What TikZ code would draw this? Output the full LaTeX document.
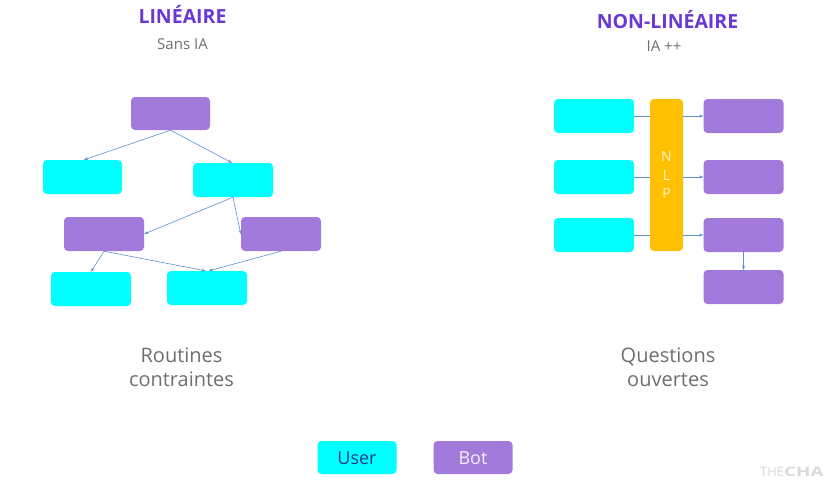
\documentclass[tikz,border=0pt]{standalone}
\usepackage{fontspec}
\setmainfont{Open Sans}
\usetikzlibrary{arrows.meta}
\definecolor{ucyan}{HTML}{00FFFF}
\definecolor{bpurple}{HTML}{A27ADC}
\definecolor{nlporange}{HTML}{FFC000}
\definecolor{arrowblue}{HTML}{5B8FD0}
\definecolor{titlepurple}{HTML}{6A38D2}
\definecolor{graytext}{HTML}{6E6E6E}
\definecolor{userblue}{HTML}{1F3C8C}
\definecolor{bottext}{HTML}{F4EEFC}
\definecolor{wmgray}{HTML}{D9D9D9}
\definecolor{nlptext}{HTML}{FFF3CC}
\tikzset{
  ubox/.style={fill=ucyan, rounded corners=4pt, minimum width=80pt, minimum height=34pt, inner sep=0pt},
  bbox/.style={fill=bpurple, rounded corners=4pt, minimum width=80pt, minimum height=34pt, inner sep=0pt},
  conn/.style={draw=arrowblue, line width=0.6pt, -{Stealth[length=4pt,width=3pt]}},
  plain/.style={draw=arrowblue, line width=0.6pt},
  title/.style={font=\fontsize{19.5}{23}\selectfont\bfseries, text=titlepurple},
  sub/.style={font=\fontsize{15}{18}\selectfont, text=graytext},
  caption/.style={font=\fontsize{20}{24}\selectfont, text=graytext, align=center},
  legtext/.style={font=\fontsize{18}{21}\selectfont}
}
\begin{document}
\begin{tikzpicture}[x=1pt,y=-1pt]
\useasboundingbox (0,0) rectangle (831,485);
% titles
\node[title] (t1) at (182.5,14) {LINÉAIRE};
\node[sub] (s1) at (182.5,44) {Sans IA};
\node[title] (t2) at (667.5,19.5) {NON-LINÉAIRE};
\node[sub] (s2) at (664,46.5) {IA ++};
% left diagram
\node[bbox, minimum width=79pt, minimum height=33pt] (lt) at (170.5,113.5) {};
\node[ubox, minimum width=79pt] (lc1) at (82.5,177) {};
\node[ubox] (lc2) at (233,180) {};
\node[bbox] (lp1) at (104,234) {};
\node[bbox] (lp2) at (281,234) {};
\node[ubox] (lc3) at (91,289) {};
\node[ubox] (lc4) at (207,288) {};
\draw[conn] (lt.south) -- ([xshift=1.5pt]lc1.north);
\draw[conn] (lt.south) -- ([xshift=-1pt]lc2.north);
\draw[conn] (lc2.south) -- (lp1.east);
\draw[conn] (lc2.south) -- (lp2.west);
\draw[conn] (lp1.south) -- (lc3.north);
\draw[conn] (lp1.south) -- ([xshift=-1.5pt]lc4.north);
\draw[conn] (lp2.south) -- ([xshift=2pt]lc4.north);
% right diagram
\node[ubox] (ru1) at (594,116) {};
\node[ubox] (ru2) at (594,177) {};
\node[ubox] (ru3) at (594,235) {};
\node[fill=nlporange, rounded corners=4pt, minimum width=33pt, minimum height=152pt, inner sep=0pt,
      font=\fontsize{14}{18.5}\selectfont, text=nlptext, align=center] (nlp) at (666.5,175) {N\\L\\P};
\node[bbox] (rb1) at (743.5,116) {};
\node[bbox] (rb2) at (743.5,177) {};
\node[bbox] (rb3) at (743.5,235) {};
\node[bbox] (rb4) at (743.5,287) {};
\draw[plain] (ru1.east) -- (ru1.east -| nlp.west);
\draw[plain] (ru2.east) -- (ru2.east -| nlp.west);
\draw[plain] (ru3.east) -- (ru3.east -| nlp.west);
\draw[conn] (rb1.west -| nlp.east) -- (rb1.west);
\draw[conn] (rb2.west -| nlp.east) -- (rb2.west);
\draw[conn] (rb3.west -| nlp.east) -- (rb3.west);
\draw[conn] (rb3.south) -- (rb4.north);
% captions
\node[caption] (cap1) at (181.5,367) {Routines\\contraintes};
\node[caption] (cap2) at (668,367) {Questions\\ouvertes};
% legend
\node[ubox, minimum width=79pt, minimum height=33pt, legtext, text=userblue, text depth=0pt, text height=13pt] (leguser) at (357,457.5) {User};
\node[bbox, minimum width=79pt, minimum height=33pt, legtext, text=bottext, text depth=0pt, text height=13pt] (legbot) at (473,457.5) {Bot};
% watermark
\node[anchor=west, inner sep=0pt, font=\fontsize{13}{15}\selectfont, text=wmgray] (wm) at (760,472) {THE\textbf{\scalebox{1.45}[1]{CHA}}};
\end{tikzpicture}
\end{document}
